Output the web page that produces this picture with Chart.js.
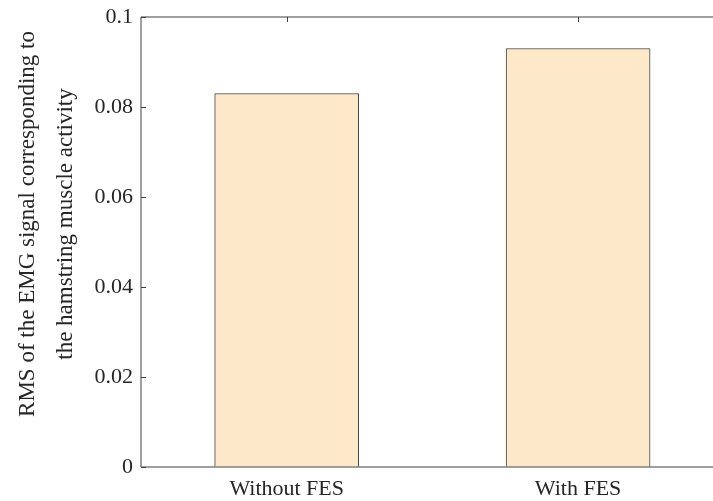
<!DOCTYPE html>
<html>
<head>
<meta charset="utf-8">
<script src="https://cdn.jsdelivr.net/npm/chart.js"></script>
<style>
  html, body { margin: 0; padding: 0; background: #fff; overflow: hidden; }
  #wrap { width: 713px; height: 501px; }
</style>
</head>
<body>
<div id="wrap"><canvas id="myChart" width="713" height="501"></canvas></div>
<script>
  // data
  var categories = ['Without FES', 'With FES'];
  var positions = [1, 2];
  var rmsValues = [0.083, 0.093];
  var yTicks = [0, 0.02, 0.04, 0.06, 0.08, 0.1];
  var yTitle = ['RMS of the EMG signal corresponding to', 'the hamstring muscle activity'];

  var axisColor = '#808080';
  var textColor = '#262626';
  var serif = "'Liberation Serif', 'DejaVu Serif', serif";

  var points = positions.map(function (p, i) {
    return { x: p, y: rmsValues[i] };
  });

  // axis lines, inward ticks and the y title, matlab style
  var matlabAxes = {
    id: 'matlabAxes',
    afterDraw: function (chart) {
      var c = chart.ctx, a = chart.chartArea;
      var xs = chart.scales.x, ys = chart.scales.y;
      c.save();
      c.strokeStyle = axisColor;
      c.lineWidth = 1.5;
      c.beginPath();
      c.moveTo(a.left, a.top);
      c.lineTo(a.left, a.bottom);
      c.moveTo(a.left, a.top);
      c.lineTo(a.right, a.top);
      c.moveTo(a.left, a.bottom);
      c.lineTo(a.right, a.bottom);
      c.stroke();
      c.lineWidth = 1;
      c.strokeStyle = '#404040';
      c.beginPath();
      yTicks.forEach(function (t) {
        var py = Math.round(ys.getPixelForValue(t)) + 0.5;
        c.moveTo(a.left, py);
        c.lineTo(a.left + 5, py);
      });
      positions.forEach(function (p) {
        var px = Math.round(xs.getPixelForValue(p)) + 0.5;
        c.moveTo(px, a.top);
        c.lineTo(px, a.top + 5);
      });
      c.stroke();

      // y title, two lines rotated
      c.fillStyle = textColor;
      c.font = '23px ' + serif;
      c.textAlign = 'center';
      c.textBaseline = 'middle';
      c.translate(0, 224);
      c.rotate(-Math.PI / 2);
      c.fillText(yTitle[0], 0, 28);
      c.fillText(yTitle[1], 0, 66);
      c.restore();
    }
  };

  var ctx = document.getElementById('myChart').getContext('2d');
  var myChart = new Chart(ctx, {
    type: 'bar',
    data: {
      datasets: [
        {
          data: points,
          backgroundColor: '#fde9ca',
          borderColor: '#404040',
          borderWidth: 1,
          barThickness: 144,
        },
      ],
    },
    plugins: [matlabAxes],
    options: {
      responsive: false,
      animation: false,
      layout: { padding: { top: 17, right: 0, left: 0, bottom: 0 } },
      plugins: { legend: { display: false }, tooltip: { enabled: false } },
      scales: {
        x: {
          type: 'linear',
          offset: false,
          min: 0.5,
          max: 2.463,
          afterBuildTicks: function (s) {
            s.ticks = positions.map(function (p) { return { value: p }; });
          },
          afterFit: function (s) {
            s.height = 34;
            s.paddingLeft = 0;
            s.paddingRight = 0;
          },
          grid: { display: false, drawTicks: false, offset: false },
          border: { display: false },
          ticks: {
            padding: 9,
            color: textColor,
            font: { family: serif, size: 22 },
            callback: function (v) {
              var i = positions.indexOf(v);
              return i >= 0 ? categories[i] : '';
            },
          },
        },
        y: {
          min: 0,
          max: 0.1,
          afterBuildTicks: function (s) {
            s.ticks = yTicks.map(function (t) { return { value: t }; });
          },
          afterFit: function (s) {
            s.width = 141;
            s.paddingTop = 0;
            s.paddingBottom = 0;
          },
          grid: { display: false, drawTicks: false },
          border: { display: false },
          ticks: {
            padding: 8,
            color: textColor,
            font: { family: serif, size: 22 },
            callback: function (v) { return String(v); },
          },
        },
      },
    },
  });
</script>
</body>
</html>
